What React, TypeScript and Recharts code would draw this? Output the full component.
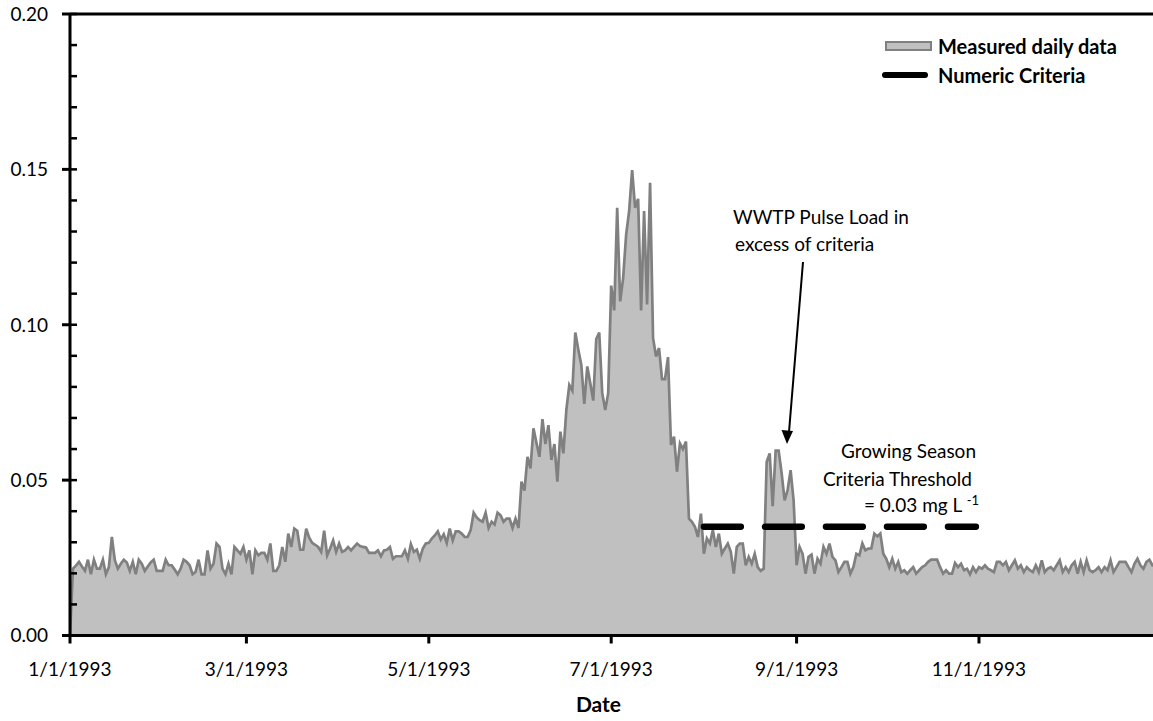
import React from 'react';
import { ComposedChart, Area, Line, XAxis, YAxis, ReferenceLine, Legend } from 'recharts';

// daily concentration (mg/L), index 0 = 1/1/1993
const measured = [
  0, 0.0215, 0.0225, 0.0237, 0.0222, 0.0208, 0.0244, 0.0197, 0.0244, 0.0215,
  0.0215, 0.0244, 0.0197, 0.022, 0.0317, 0.0242, 0.0215, 0.0231, 0.0244, 0.0235,
  0.0208, 0.0237, 0.0197, 0.0244, 0.0231, 0.0208, 0.0222, 0.0235, 0.0244, 0.0208,
  0.0208, 0.0208, 0.0244, 0.0226, 0.0226, 0.0212, 0.0197, 0.0215, 0.0244, 0.0237,
  0.0226, 0.0197, 0.0205, 0.0244, 0.0197, 0.0197, 0.0274, 0.0215, 0.0231, 0.0296,
  0.0285, 0.0215, 0.0197, 0.0231, 0.0197, 0.0285, 0.0274, 0.0263, 0.0285, 0.0244,
  0.0274, 0.0197, 0.0274, 0.0258, 0.0266, 0.0266, 0.0244, 0.0296, 0.0208, 0.0208,
  0.0226, 0.0285, 0.0237, 0.0328, 0.0285, 0.0344, 0.0337, 0.0276, 0.0276, 0.0344,
  0.0315, 0.0298, 0.0292, 0.0285, 0.0269, 0.0337, 0.0258, 0.028, 0.0306, 0.0269,
  0.0296, 0.0269, 0.0274, 0.0285, 0.0274, 0.0285, 0.0296, 0.0288, 0.0285, 0.0283,
  0.0266, 0.0266, 0.0266, 0.0274, 0.0255, 0.0274, 0.0276, 0.0285, 0.0247, 0.0255,
  0.0255, 0.0255, 0.0274, 0.0247, 0.0294, 0.0269, 0.0276, 0.0247, 0.028, 0.0296,
  0.0298, 0.0312, 0.0322, 0.0335, 0.0309, 0.0326, 0.0298, 0.0344, 0.0306, 0.0335,
  0.0335, 0.0328, 0.0317, 0.0317, 0.0339, 0.0395, 0.038, 0.0371, 0.0366, 0.0395,
  0.0346, 0.0366, 0.0357, 0.0395, 0.0387, 0.0366, 0.0376, 0.0376, 0.0346, 0.0376,
  0.0346, 0.0495, 0.0466, 0.0575, 0.0538, 0.0667, 0.062, 0.0575, 0.0696, 0.0616,
  0.0677, 0.0565, 0.0616, 0.0495, 0.0656, 0.0586, 0.0726, 0.0806, 0.0788, 0.0975,
  0.092, 0.0871, 0.0745, 0.0866, 0.0812, 0.0756, 0.0954, 0.0975, 0.078, 0.0726,
  0.078, 0.1126, 0.1046, 0.1376, 0.1075, 0.1151, 0.129, 0.1366, 0.1498, 0.1376,
  0.1405, 0.1046, 0.1366, 0.1065, 0.1457, 0.0957, 0.0898, 0.0925, 0.0825, 0.0825,
  0.0896, 0.0613, 0.064, 0.0527, 0.0618, 0.06, 0.0624, 0.0376, 0.0366, 0.035,
  0.0317, 0.0392, 0.0263, 0.0312, 0.0296, 0.0339, 0.0285, 0.0328, 0.0263, 0.028,
  0.0296, 0.0269, 0.0199, 0.0285, 0.0296, 0.0296, 0.0226, 0.0253, 0.0231, 0.0263,
  0.022, 0.0208, 0.0215, 0.0559, 0.0586, 0.0416, 0.0595, 0.0595, 0.0522, 0.0435,
  0.0468, 0.0532, 0.0435, 0.0226, 0.0285, 0.0263, 0.0199, 0.0253, 0.026, 0.0199,
  0.0247, 0.0231, 0.0285, 0.0263, 0.0296, 0.0253, 0.0242, 0.0204, 0.022, 0.0237,
  0.0237, 0.0199, 0.022, 0.0263, 0.0258, 0.0296, 0.0274, 0.028, 0.028, 0.0328,
  0.0319, 0.0328, 0.0263, 0.0247, 0.022, 0.0247, 0.0215, 0.0237, 0.0204, 0.021,
  0.0199, 0.021, 0.022, 0.0199, 0.021, 0.022, 0.0226, 0.0237, 0.0244, 0.0244,
  0.0244, 0.022, 0.0199, 0.021, 0.0199, 0.0199, 0.0233, 0.022, 0.0231, 0.021,
  0.0215, 0.0197, 0.022, 0.0204, 0.022, 0.0215, 0.0226, 0.0215, 0.021, 0.0204,
  0.0237, 0.0237, 0.0226, 0.0237, 0.021, 0.0226, 0.0242, 0.0215, 0.0226, 0.0204,
  0.022, 0.021, 0.0204, 0.0226, 0.0204, 0.0242, 0.0204, 0.0215, 0.022, 0.021,
  0.0226, 0.0242, 0.0204, 0.022, 0.0204, 0.0226, 0.0237, 0.0199, 0.0237, 0.0204,
  0.0242, 0.021, 0.0204, 0.021, 0.022, 0.0204, 0.022, 0.021, 0.0242, 0.0204,
  0.022, 0.0237, 0.0237, 0.0237, 0.022, 0.0204, 0.0231, 0.0247, 0.0226, 0.0215,
  0.0237, 0.0244, 0.0226, 0.023, 0.0235,
];

// growing season criteria: 8/1 .. 10/31
const criteriaDays = [212, 303];
const criteriaLevel = 0.035;

const tickDays = [0, 59, 120, 181, 243, 304];
const tickLabels = ['1/1/1993', '3/1/1993', '5/1/1993', '7/1/1993', '9/1/1993', '11/1/1993'];
const yTicks = [0, 0.05, 0.1, 0.15, 0.2];
const yMinorTicks = [
  0, 0.01, 0.02, 0.03, 0.04, 0.05, 0.06, 0.07, 0.08, 0.09, 0.1,
  0.11, 0.12, 0.13, 0.14, 0.15, 0.16, 0.17, 0.18, 0.19, 0.2,
];

const data = measured.map((v, i) => ({
  day: i,
  measured: v,
  criteria: i >= criteriaDays[0] && i <= criteriaDays[1] ? criteriaLevel : null,
}));

const FONT = 'Lato, "Open Sans", sans-serif';
const Y_TICK_OUT = 8;
const Y_TICK_GAP = 14;

// y ticks: minor ticks point inward, major ticks outward with a label
const YTick = (props: any) => {
  const { x, y, payload } = props;
  const edge = x + Y_TICK_OUT + Y_TICK_GAP;
  const major = yTicks.some((t) => Math.abs(t - payload.value) < 1e-9);
  return (
    <g>
      <line x1={edge} x2={edge + 7} y1={y} y2={y} stroke="#000" strokeWidth={2.5} />
      {major && <line x1={edge - Y_TICK_OUT} x2={edge} y1={y} y2={y} stroke="#000" strokeWidth={3} />}
      {major && (
        <text x={x} y={y} dy="0.36em" textAnchor="end" fill="#000" fontSize={19} fontFamily={FONT}>
          {payload.value.toFixed(2)}
        </text>
      )}
    </g>
  );
};

const renderLegend = (props: any) => {
  const items = props.payload || [];
  return (
    <div style={{ fontFamily: FONT, fontWeight: 700, fontSize: 20, color: '#000' }}>
      {items.map((entry: any) => (
        <div key={entry.dataKey} style={{ display: 'flex', alignItems: 'center', height: 29 }}>
          {entry.dataKey === 'measured' ? (
            <span
              style={{
                display: 'inline-block', width: 47, height: 10, marginLeft: 3, marginRight: 6,
                background: '#c0c0c0', border: '2px solid #808080', boxSizing: 'border-box',
              }}
            />
          ) : (
            <span
              style={{
                display: 'inline-block', width: 46, height: 6, marginRight: 10,
                background: '#000', borderRadius: 3,
              }}
            />
          )}
          <span>{entry.value}</span>
        </div>
      ))}
    </div>
  );
};

export default function App() {
  return (
    <div style={{ position: 'absolute', left: 0, top: 0, width: 1153, height: 721, background: '#fff' }}>
      <ComposedChart
        width={1153}
        height={721}
        data={data}
        margin={{ top: 14, right: 0, left: 0, bottom: 0 }}
      >
        <Area
          type="linear"
          dataKey="measured"
          name="Measured daily data"
          stroke="#808080"
          strokeWidth={2.7}
          fill="#c0c0c0"
          fillOpacity={1}
          dot={false}
          activeDot={false}
          isAnimationActive={false}
        />
        <Line
          type="linear"
          dataKey="criteria"
          name="Numeric Criteria"
          stroke="#000"
          strokeWidth={6.3}
          strokeDasharray="37 24"
          strokeLinecap="round"
          dot={false}
          activeDot={false}
          connectNulls={false}
          isAnimationActive={false}
        />
        <ReferenceLine y={0.2} stroke="#000" strokeWidth={3} ifOverflow="visible" />
        <XAxis
          dataKey="day"
          type="number"
          domain={[0, 362.2]}
          allowDataOverflow
          ticks={tickDays}
          interval={0}
          tickFormatter={(d: number) => tickLabels[tickDays.indexOf(d)] ?? ''}
          height={85.5}
          tickSize={8}
          tickMargin={19}
          axisLine={{ stroke: '#000', strokeWidth: 3 }}
          tickLine={{ stroke: '#000', strokeWidth: 3 }}
          tick={{ fill: '#000', fontSize: 19, fontFamily: FONT }}
          label={{
            value: 'Date', position: 'insideBottom', offset: 9, dx: -13,
            fill: '#000', fontSize: 21, fontWeight: 700, fontFamily: FONT,
          }}
        />
        <YAxis
          domain={[0, 0.2]}
          ticks={yMinorTicks}
          interval={0}
          width={70}
          tickSize={Y_TICK_OUT}
          tickMargin={Y_TICK_GAP}
          axisLine={{ stroke: '#000', strokeWidth: 3 }}
          tickLine={false}
          tick={<YTick />}
        />
        <Legend
          layout="vertical"
          verticalAlign="middle"
          align="center"
          content={renderLegend}
          wrapperStyle={{ position: 'absolute', top: 31, left: 882, width: 270 }}
        />
      </ComposedChart>
      <svg
        width={1153}
        height={721}
        style={{ position: 'absolute', left: 0, top: 0, pointerEvents: 'none' }}
        fontFamily={FONT}
        fontSize={19}
        fill="#000"
      >
        <text x={733} y={224}>WWTP Pulse Load in</text>
        <text x={735} y={251}>excess of criteria</text>
        <line x1={803} y1={262} x2={789} y2={432} stroke="#000" strokeWidth={2} />
        <polygon points="787,444 781.5,430 793,431" fill="#000" />
        <text x={976} y={458} textAnchor="end">Growing Season</text>
        <text x={972} y={486} textAnchor="end">Criteria Threshold</text>
        <text x={979} y={512} textAnchor="end">
          = 0.03 mg L <tspan dy={-7} fontSize={13}>-1</tspan>
        </text>
      </svg>
    </div>
  );
}
